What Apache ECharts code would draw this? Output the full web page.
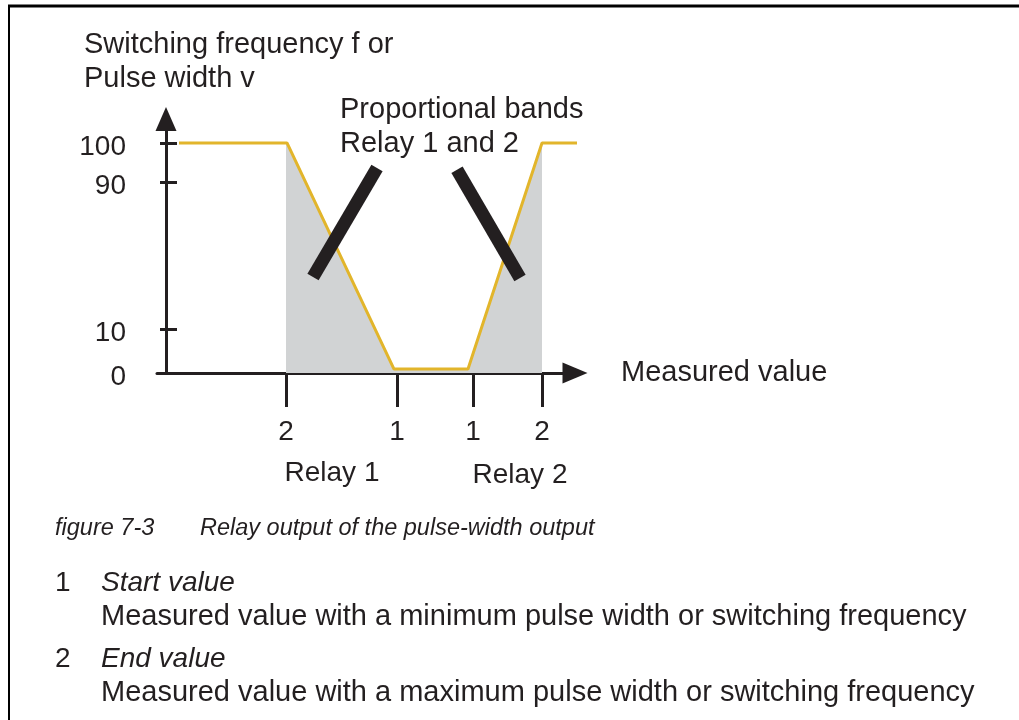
<!DOCTYPE html>
<html>
<head>
<meta charset="utf-8">
<script src="https://cdn.jsdelivr.net/npm/echarts@6/dist/echarts.min.js"></script>
<style>
  html, body { margin: 0; padding: 0; background: #fff; }
  #main { width: 1019px; height: 720px; }
</style>
</head>
<body>
<div id="main"></div>
<script>
// schematic: x in arbitrary measured-value units, y in percent
var xTickAt = [12.0, 23.1, 30.7, 37.6]
var xTickLabels = ['2', '1', '1', '2']
var yTickAt = [0, 19.1, 83.0, 100]
var yTickLabels = ['0', '10', '90', '100']

// relay output curve
var outputX = [1.3, 12.1, 22.8, 30.2, 37.6, 41.1]
var outputY = [100, 100, 1.7, 1.7, 100, 100]

// shaded proportional bands
var bandX = [12.0, 12.1, 22.8, 30.2, 37.6]
var bandY = [100, 100, 1.7, 1.7, 100]

// the two black pointer bars
var bar1X = [21.1, 14.7]
var bar1Y = [89.1, 41.7]
var bar2X = [29.1, 35.4]
var bar2Y = [88.3, 41.3]

var ink = '#231f20'
var fam = '"Liberation Sans", Arial, Helvetica, sans-serif'

function pairs(xs, ys) {
    return xs.map(function (x, i) { return [x, ys[i]] })
}

function txt(text, x, y, size, opts) {
    opts = opts || {}
    return {
        type: 'text',
        x: x, y: y,
        style: {
            text: text,
            font: (opts.italic ? 'italic ' : '') + size + 'px ' + fam,
            fill: ink,
            textAlign: opts.align || 'left',
            align: opts.align || 'left',
            textVerticalAlign: 'middle',
            verticalAlign: 'middle'
        }
    }
}

var myChart = echarts.init(document.getElementById('main'))
myChart.setOption({
    animation: false,
    backgroundColor: '#fff',
    grid: { left: 157, right: 444, top: 119, bottom: 347, outerBoundsMode: 'none' },
    xAxis: {
        type: 'value',
        min: -0.9,
        max: 40.9,
        name: 'Measured value',
        nameLocation: 'end',
        nameGap: 46,
        nameTextStyle: { fontSize: 29, fontFamily: fam, color: ink, padding: [0, 0, 10, 0] },
        axisLine: {
            show: true,
            onZero: true,
            lineStyle: { color: ink, width: 3 },
            symbol: ['none', 'triangle'],
            symbolSize: [21, 25]
        },
        axisTick: {
            show: true,
            length: 34,
            lineStyle: { color: ink, width: 3 },
            customValues: xTickAt
        },
        axisLabel: {
            customValues: xTickAt,
            formatter: function (v) { return xTickLabels[xTickAt.indexOf(v)] },
            fontSize: 28,
            fontFamily: fam,
            color: ink,
            margin: 59,
            verticalAlign: 'middle'
        },
        splitLine: { show: false }
    },
    yAxis: [
        {
            type: 'value',
            position: 'left',
            min: 0,
            max: 110.4,
            axisLine: {
                show: true,
                onZero: true,
                lineStyle: { color: ink, width: 3 },
                symbol: ['none', 'triangle'],
                symbolSize: [21, 24]
            },
            axisTick: {
                show: true,
                inside: true,
                length: 11,
                lineStyle: { color: ink, width: 3 },
                customValues: yTickAt
            },
            axisLabel: {
                customValues: yTickAt,
                formatter: function (v) { return yTickLabels[yTickAt.indexOf(v)] },
                fontSize: 28,
                fontFamily: fam,
                color: ink,
                margin: 31,
                verticalAlign: 'top',
                lineHeight: 9
            },
            splitLine: { show: false }
        },
        {
            // short outer half of the y ticks, moved onto the main axis
            type: 'value',
            position: 'left',
            offset: -9,
            min: 0,
            max: 110.4,
            axisLine: { show: false, onZero: false },
            axisTick: {
                show: true,
                inside: false,
                length: 6,
                lineStyle: { color: ink, width: 3 },
                customValues: yTickAt.slice(1)
            },
            axisLabel: { show: false },
            splitLine: { show: false }
        }
    ],
    graphic: [
        { type: 'line', shape: { x1: 8, y1: 6, x2: 1019, y2: 6 }, style: { stroke: '#000', lineWidth: 3 } },
        { type: 'line', shape: { x1: 9, y1: 5, x2: 9, y2: 720 }, style: { stroke: '#000', lineWidth: 2 } },
        txt('Switching frequency f or', 84, 45, 29),
        txt('Pulse width v', 84, 79, 29),
        txt('Proportional bands', 340, 110, 29),
        txt('Relay 1 and 2', 340, 144, 29),
        txt('Relay 1', 332, 473, 28, { align: 'center' }),
        txt('Relay 2', 520, 475, 28, { align: 'center' }),
        txt('figure 7-3', 55, 528, 23.5, { italic: true }),
        txt('Relay output of the pulse-width output', 200, 528, 23.5, { italic: true }),
        txt('1', 55, 583, 28),
        txt('Start value', 101, 583, 28, { italic: true }),
        txt('Measured value with a minimum pulse width or switching frequency', 101, 617, 29),
        txt('2', 55, 659, 28),
        txt('End value', 101, 659, 28, { italic: true }),
        txt('Measured value with a maximum pulse width or switching frequency', 101, 693, 29)
    ],
    series: [
        {
            name: 'Proportional bands',
            type: 'line',
            data: pairs(bandX, bandY),
            symbol: 'none',
            lineStyle: { width: 0 },
            areaStyle: { color: '#d1d3d4', opacity: 1 },
            z: 1
        },
        {
            name: 'Relay output',
            type: 'line',
            data: pairs(outputX, outputY),
            symbol: 'none',
            lineStyle: { color: '#e2b52b', width: 3 },
            z: 2
        },
        {
            name: 'Band 1',
            type: 'line',
            data: pairs(bar1X, bar1Y),
            symbol: 'none',
            lineStyle: { color: ink, width: 13, cap: 'butt' },
            z: 3
        },
        {
            name: 'Band 2',
            type: 'line',
            data: pairs(bar2X, bar2Y),
            symbol: 'none',
            lineStyle: { color: ink, width: 13, cap: 'butt' },
            z: 3
        }
    ]
})
</script>
</body>
</html>
